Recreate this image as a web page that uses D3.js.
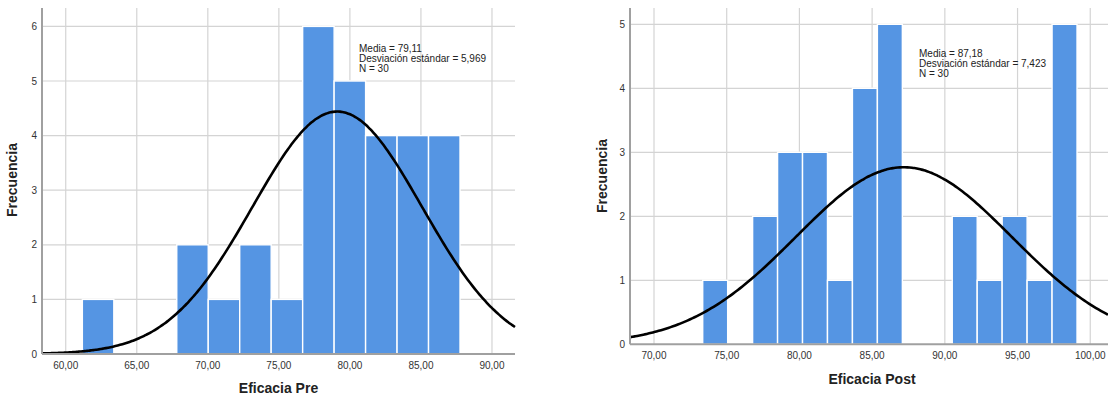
<!DOCTYPE html>
<html>
<head>
<meta charset="utf-8">
<script src="https://cdn.jsdelivr.net/npm/d3@7"></script>
<style>
  body { margin: 0; background: #fff; }
  svg { display: block; font-family: Arial, "Liberation Sans", sans-serif; }
</style>
</head>
<body>
<div id="chart"></div>
<script>
// Eficacia Pre
const preCounts = [1, 0, 0, 2, 1, 2, 1, 6, 5, 4, 4, 4];
const preBinStart = 61.17;
const preBinWidth = 2.215;
const preXTicks = [60, 65, 70, 75, 80, 85, 90];
const preYTicks = [0, 1, 2, 3, 4, 5, 6];
const preStats = [79.11, 5.969, 30];   // media, desviación, N

// Eficacia Post
const postCounts = [1, 0, 2, 3, 3, 1, 4, 5, 0, 0, 2, 1, 2, 1, 5];
const postBinStart = 73.35;
const postBinWidth = 1.716;
const postXTicks = [70, 75, 80, 85, 90, 95, 100];
const postYTicks = [0, 1, 2, 3, 4, 5];
const postStats = [87.18, 7.423, 30];

const width = 1108, height = 396;

const svg = d3.select("#chart")
  .append("svg")
  .attr("width", width)
  .attr("height", height);

const fmt = v => d3.format(".2f")(v).replace(".", ",");

function drawHist(opt) {
  const x = d3.scaleLinear().domain(opt.xDomain).range([opt.left, opt.right]);
  const y = d3.scaleLinear().domain([0, opt.yMax]).range([opt.bottom, opt.bottom - opt.yMax * opt.unit]);
  const g = svg.append("g");

  // grid
  g.selectAll(".hgrid").data(opt.yTicks.filter(d => d > 0)).enter()
    .append("line")
    .attr("x1", opt.left).attr("x2", opt.right)
    .attr("y1", d => y(d)).attr("y2", d => y(d))
    .attr("stroke", "#d4d4d4").attr("stroke-width", 1.2);
  g.selectAll(".vgrid").data(opt.xTicks).enter()
    .append("line")
    .attr("x1", d => x(d)).attr("x2", d => x(d))
    .attr("y1", opt.top).attr("y2", opt.bottom)
    .attr("stroke", "#d4d4d4").attr("stroke-width", 1.2);

  // bars
  const bins = opt.counts.map((c, i) => ({
    x0: opt.binStart + i * opt.binWidth,
    x1: opt.binStart + (i + 1) * opt.binWidth,
    c: c
  })).filter(d => d.c > 0);
  g.selectAll(".bar").data(bins).enter()
    .append("rect")
    .attr("x", d => x(d.x0))
    .attr("width", d => x(d.x1) - x(d.x0))
    .attr("y", d => y(d.c))
    .attr("height", d => y(0) - y(d.c))
    .attr("fill", "#5595e3")
    .attr("stroke", "#ffffff")
    .attr("stroke-width", 1.4);

  // normal curve
  const [mu, sd, n] = opt.stats;
  const pts = d3.range(0, 201).map(i => {
    const v = opt.xDomain[0] + (opt.xDomain[1] - opt.xDomain[0]) * i / 200;
    const z = (v - mu) / sd;
    return [v, n * opt.binWidth * Math.exp(-0.5 * z * z) / (sd * Math.sqrt(2 * Math.PI))];
  });
  g.append("path")
    .datum(pts)
    .attr("d", d3.line().x(d => x(d[0])).y(d => y(d[1])).curve(d3.curveBasis))
    .attr("fill", "none")
    .attr("stroke", "#000")
    .attr("stroke-width", 2.6);

  // axis lines
  g.append("line")
    .attr("x1", opt.left).attr("x2", opt.left)
    .attr("y1", opt.top).attr("y2", opt.bottom)
    .attr("stroke", "#a0a0a0").attr("stroke-width", 2);
  g.append("line")
    .attr("x1", opt.left).attr("x2", opt.right)
    .attr("y1", opt.bottom).attr("y2", opt.bottom)
    .attr("stroke", "#a0a0a0").attr("stroke-width", 2);

  // tick labels
  g.selectAll(".xl").data(opt.xTicks).enter()
    .append("text")
    .attr("x", d => x(d)).attr("y", opt.bottom + 15)
    .attr("text-anchor", "middle")
    .attr("font-size", 10).attr("fill", "#333")
    .text(fmt);
  g.selectAll(".yl").data(opt.yTicks).enter()
    .append("text")
    .attr("x", opt.left - 5).attr("y", d => y(d) + 3.5)
    .attr("text-anchor", "end")
    .attr("font-size", 10).attr("fill", "#333")
    .text(d => d);

  // axis titles
  g.append("text")
    .attr("x", (opt.left + opt.right) / 2 + opt.xTitleDx).attr("y", opt.xTitleY)
    .attr("text-anchor", "middle")
    .attr("font-size", 14).attr("font-weight", "bold").attr("fill", "#222")
    .text(opt.xTitle);
  g.append("text")
    .attr("transform", `translate(${opt.yTitleX},${opt.yTitleY}) rotate(-90)`)
    .attr("text-anchor", "middle")
    .attr("font-size", 14).attr("font-weight", "bold").attr("fill", "#222")
    .text("Frecuencia");

  // stats annotation
  const lines = ["Media = " + d3.format(".2f")(mu).replace(".", ","),
    "Desviación estándar = " + d3.format(".3f")(sd).replace(".", ","),
    "N = " + n];
  g.selectAll(".ann").data(lines).enter()
    .append("text")
    .attr("x", opt.annX).attr("y", (d, i) => opt.annY + i * 10)
    .attr("font-size", 10).attr("fill", "#222")
    .text(d => d);
}

drawHist({
  counts: preCounts, binStart: preBinStart, binWidth: preBinWidth,
  xTicks: preXTicks, yTicks: preYTicks, stats: preStats,
  xDomain: [58.33, 91.62], yMax: 6.35, unit: 54.6,
  left: 42, right: 515, top: 8, bottom: 354,
  xTitle: "Eficacia Pre", xTitleDx: 0, xTitleY: 393,
  yTitleX: 17, yTitleY: 180,
  annX: 359, annY: 52
});

drawHist({
  counts: postCounts, binStart: postBinStart, binWidth: postBinWidth,
  xTicks: postXTicks, yTicks: postYTicks, stats: postStats,
  xDomain: [68.35, 101.22], yMax: 5.25, unit: 64,
  left: 630, right: 1108, top: 8, bottom: 344.3,
  xTitle: "Eficacia Post", xTitleDx: 3, xTitleY: 384,
  yTitleX: 607, yTitleY: 176,
  annX: 919, annY: 56.5
});
</script>
</body>
</html>
